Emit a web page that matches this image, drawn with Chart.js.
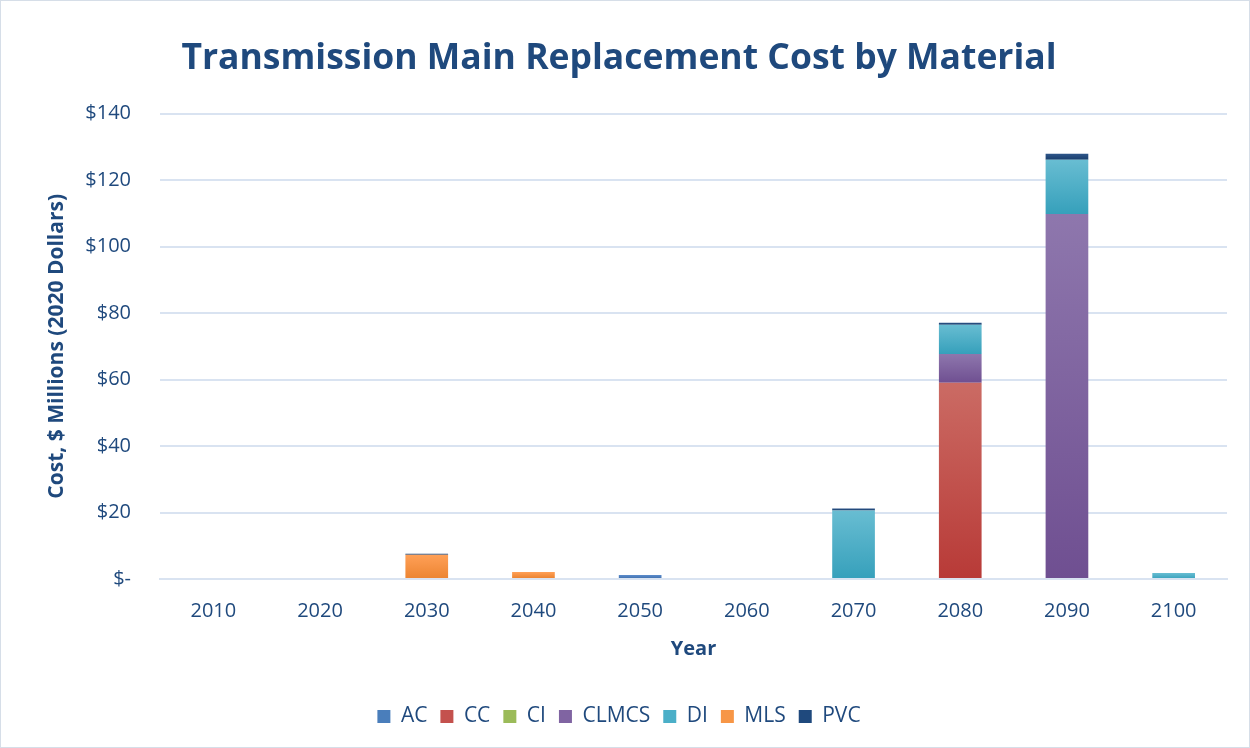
<!DOCTYPE html>
<html>
<head>
<meta charset="utf-8">
<script src="https://cdn.jsdelivr.net/npm/chart.js@4"></script>
<style>
html,body{margin:0;padding:0;background:#fff;}
#wrap{position:absolute;left:0;top:0;width:1248px;height:746px;border:1px solid #D6DEE8;}
canvas{display:block;}
</style>
</head>
<body>
<div id="wrap"><canvas id="c" width="1248" height="746"></canvas></div>
<script>
const years = ["2010","2020","2030","2040","2050","2060","2070","2080","2090","2100"];
const AC    = [0,   0,   0,   0.3, 1.2, 0, 0,    0,    0,     0];
const CC    = [0,   0,   0,   0,   0,   0, 0,    59,   0,     0];
const CI    = [0,   0,   0,   0,   0,   0, 0,    0,    0,     0];
const CLMCS = [0,   0,   0,   0,   0,   0, 0,    8.7,  109.8, 0];
const DI    = [0.3, 0,   0,   0,   0,   0, 20.6, 8.8,  16.3,  1.8];
const MLS   = [0,   0.3, 7.3, 1.8, 0,   0, 0,    0,    0,     0];
const PVC   = [0,   0,   0.3, 0,   0,   0, 0.6,  0.6,  1.8,   0];
const yTicks = [0,20,40,60,80,100,120,140];

const seriesList = [AC, CC, CI, CLMCS, DI, MLS, PVC];

const textColor = '#1F497D';
const gridColor = '#D9E3F1';
const font = "'Open Sans', 'Liberation Sans', sans-serif";

function grad(top, mid, bottom) {
  return (ctx) => {
    if (ctx.type !== 'data') return mid;
    const chart = ctx.chart;
    const ys = chart.scales && chart.scales.y;
    if (!ys) return mid;
    const i = ctx.dataIndex, d = ctx.datasetIndex;
    let base = 0;
    for (let k = 0; k < d; k++) base += seriesList[k][i];
    const v = seriesList[d][i];
    const y0 = ys.getPixelForValue(base), y1 = ys.getPixelForValue(base + v);
    if (!isFinite(y0) || !isFinite(y1) || Math.abs(y0 - y1) < 1) return mid;
    const g = chart.ctx.createLinearGradient(0, y1, 0, y0);
    g.addColorStop(0, top);
    g.addColorStop(1, bottom);
    return g;
  };
}

function ds(label, data, top, mid, bottom) {
  return {label, data, backgroundColor: grad(top, mid, bottom), borderWidth: 0,
          categoryPercentage: 1.0, barPercentage: 0.4};
}

new Chart(document.getElementById('c'), {
  type: 'bar',
  data: {
    labels: years,
    datasets: [
      ds('AC', AC, '#5C8CCC', '#4A7EBB', '#3C6CAA'),
      ds('CC', CC, '#CB6B64', '#C4514D', '#B83A37'),
      ds('CI', CI, '#A8C768', '#9BBB59', '#8AAA48'),
      ds('CLMCS', CLMCS, '#8E77AD', '#8064A2', '#6F4F91'),
      ds('DI', DI, '#68BDD2', '#4BAFC8', '#36A0BB'),
      ds('MLS', MLS, '#FFA057', '#F79646', '#EC8431'),
      ds('PVC', PVC, '#2E568A', '#1F497D', '#1A3E6C')
    ]
  },
  options: {
    responsive: false,
    animation: false,
    devicePixelRatio: 1,
    layout: {padding: {left: 10, right: 22, top: 0, bottom: 10}},
    plugins: {
      title: {
        display: true,
        text: 'Transmission Main Replacement Cost by Material',
        color: textColor,
        font: {family: font, size: 35.5, weight: 'bold'},
        padding: {top: 37, bottom: 33}
      },
      legend: {
        position: 'bottom',
        labels: {
          color: textColor,
          font: {family: font, size: 21},
          boxWidth: 13, boxHeight: 13,
          padding: 13
        }
      },
      tooltip: {enabled: false}
    },
    scales: {
      x: {
        stacked: true,
        grid: {display: false, drawTicks: false},
        border: {color: gridColor, width: 2},
        ticks: {color: textColor, font: {family: font, size: 20}, padding: 20},
        title: {display: true, text: 'Year', color: textColor,
                font: {family: font, size: 20, weight: 'bold'}, padding: {top: 0, bottom: 32}},
        afterFit: (s) => { s.height = 114; }
      },
      y: {
        stacked: true,
        min: 0, max: 140,
        afterBuildTicks: (axis) => { axis.ticks = yTicks.map(v => ({value: v})); },
        grid: {color: gridColor, lineWidth: 2, drawTicks: false},
        border: {display: false},
        ticks: {
          color: textColor, font: {family: font, size: 20}, padding: 29,
          callback: (v) => v === 0 ? '$-' : '$' + v
        },
        title: {display: true, text: 'Cost, $ Millions (2020 Dollars)', color: textColor,
                font: {family: font, size: 21, weight: 'bold'}, padding: {top: 33, bottom: 0}},
        afterFit: (s) => { s.width = 149; }
      }
    }
  }
});
</script>
</body>
</html>
